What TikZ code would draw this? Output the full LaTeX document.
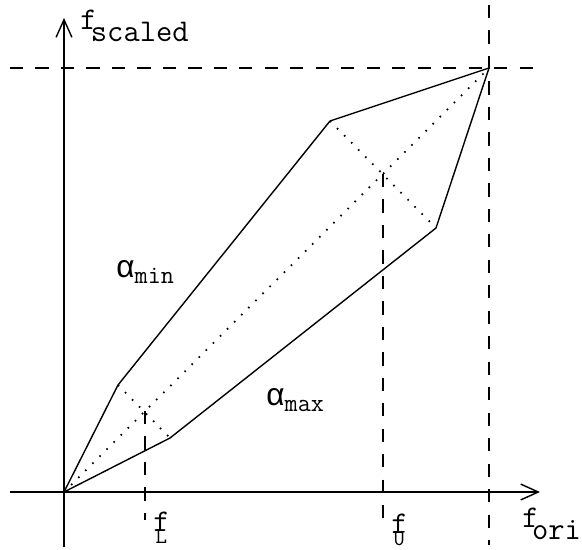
\documentclass[tikz,border=0pt]{standalone}
\usepackage{fontspec}
\newfontfamily\alphafont{Liberation Sans}
\usetikzlibrary{arrows.meta}

% label with a lowered subscript, tucked under the letter
\newcommand{\flab}[3][-0.18em]{\texttt{#2}\kern#1\raisebox{-0.38em}{\texttt{#3}}}
\newcommand{\fsub}[2]{\texttt{#1}\kern-0.45em\raisebox{-0.4em}{\fontsize{13}{15}\selectfont\texttt{#2}}}
\newcommand{\alab}[1]{{\alphafont α}\raisebox{-0.2em}{\fontsize{14.5}{16}\selectfont\texttt{#1}}}

\begin{document}
\begin{tikzpicture}[
          x=0.02cm, y=-0.02cm,
          axis/.style={line width=0.8pt, -{Straight Barb[length=10pt, width=9pt]}},
          curve/.style={line width=0.8pt, line join=miter},
          guide/.style={line width=0.8pt, dash pattern=on 7.5pt off 7pt},
          diag/.style={line width=1pt, dash pattern=on 0.9pt off 4.8pt},
          lab/.style={font=\fontsize{18}{20}\selectfont, inner sep=0pt, anchor=base west},
        ]
        \useasboundingbox (0,0) rectangle (582,549);
        % points of the two curves
        \coordinate (O) at (64,492);
        \coordinate (P) at (489,68);
        \coordinate (A1) at (118,385);
        \coordinate (A2) at (330,121);
        \coordinate (B1) at (170,438);
        \coordinate (B2) at (436,228);
        \coordinate (L) at (145,411);
        \coordinate (Lb) at (145,520);
        \coordinate (U) at (383,174);
        \coordinate (Ub) at (383,530);
        \coordinate (xs) at (10,492);
        \coordinate (xe) at (540,492);
        \coordinate (ys) at (64,547);
        \coordinate (ye) at (64,18);
        \coordinate (hs) at (10,68);
        \coordinate (he) at (540,68);
        \coordinate (vs) at (489,5);
        \coordinate (ve) at (489,545);

        % axes
        \draw[axis] (xs) -- (xe);
        \draw[axis] (ys) -- (ye);
        % guides
        \draw[guide] (hs) -- (he);
        \draw[guide] (vs) -- (ve);
        \draw[guide] (L) -- (Lb);
        \draw[guide] (U) -- (Ub);
        % curves
        \draw[curve] (O) -- (A1) -- (A2) -- (P);
        \draw[curve] (O) -- (B1) -- (B2) -- (P);
        \draw[diag] (O) -- (P);
        \draw[diag] (A1) -- (B1);
        \draw[diag] (A2) -- (B2);

        % labels
        \node[lab] (fs) at (80,29) {\flab{f}{scaled}};
        \node[lab] (fo) at (522,527) {\flab[-0.21em]{f}{ori}};
        \node[lab] (fl) at (153,531) {\fsub{f}{L}};
        \node[lab] (fu) at (391,533) {\fsub{f}{U}};
        \node[lab] (amin) at (116,277) {\alab{min}};
        \node[lab] (amax) at (266,405) {\alab{max}};
      \end{tikzpicture}
\end{document}
